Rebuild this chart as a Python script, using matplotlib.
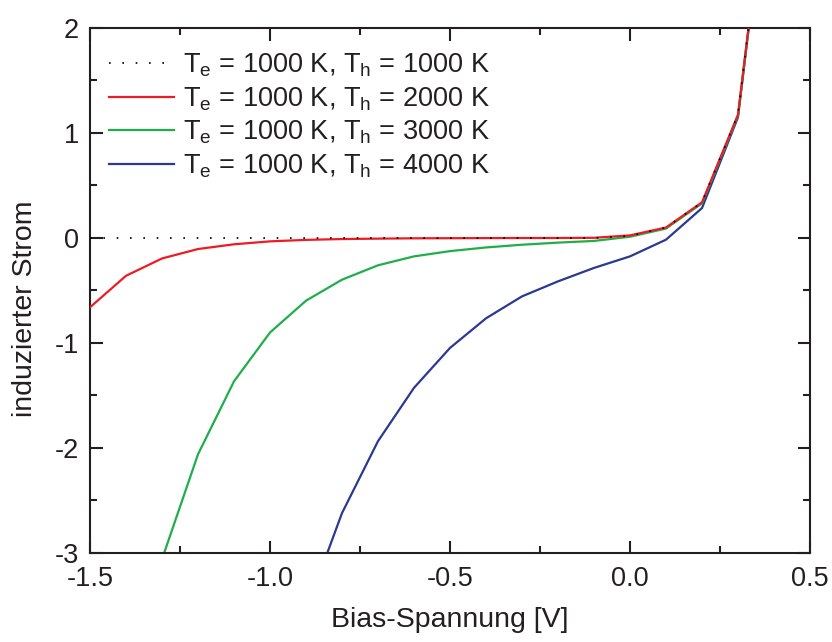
import matplotlib
matplotlib.use("Agg")
import matplotlib.pyplot as plt
from matplotlib.ticker import MultipleLocator

plt.rcParams['font.family'] = ['Liberation Sans', 'DejaVu Sans']
plt.rcParams['mathtext.fontset'] = 'custom'
plt.rcParams['mathtext.rm'] = 'Liberation Sans'
plt.rcParams['mathtext.default'] = 'regular'

# Bias voltage grid (V)
bias = [-1.5, -1.4, -1.3, -1.2, -1.1, -1.0, -0.9, -0.8, -0.7, -0.6, -0.5,
        -0.4, -0.3, -0.2, -0.1, 0.0, 0.1, 0.2, 0.3, 0.4]

# Induced current for T_e = 1000 K and different hole temperatures
i_1000 = [0.0, 0.0, 0.0, 0.0, 0.0, 0.0, 0.0, 0.0, 0.0, 0.0, 0.0,
          0.0, 0.0, 0.0, 0.0, 0.02, 0.10, 0.34, 1.175, 4.0]
i_2000 = [-0.66, -0.36, -0.195, -0.105, -0.06, -0.032, -0.018, -0.01, -0.006, -0.003, -0.002,
          -0.001, 0.0, 0.0, 0.002, 0.025, 0.10, 0.34, 1.175, 4.0]
i_3000 = [-6.9, -4.6, -3.06, -2.06, -1.365, -0.90, -0.597, -0.397, -0.26, -0.175, -0.125,
          -0.09, -0.064, -0.044, -0.028, 0.012, 0.09, 0.33, 1.165, 4.0]
i_4000 = [-9.5, -7.4, -5.9, -5.2, -4.8, -4.2, -3.55, -2.62, -1.935, -1.427, -1.047,
          -0.765, -0.556, -0.413, -0.285, -0.175, -0.016, 0.285, 1.15, 4.0]

labels = [r'T$_e$ = 1000 K, T$_h$ = 1000 K',
          r'T$_e$ = 1000 K, T$_h$ = 2000 K',
          r'T$_e$ = 1000 K, T$_h$ = 3000 K',
          r'T$_e$ = 1000 K, T$_h$ = 4000 K']

txt = '#231f20'
fig = plt.figure(figsize=(8.32, 6.42), dpi=100)
ax = fig.add_axes([90 / 832, 89 / 642, 720 / 832, 525 / 642])

ax.plot(bias, i_1000, color='black', lw=1.2, ls=(0, (1, 7)), label=labels[0], zorder=4)
ax.plot(bias, i_2000, color='#ec1c24', lw=1.6, label=labels[1], zorder=3)
ax.plot(bias, i_3000, color='#1fae4a', lw=1.6, label=labels[2], zorder=2)
ax.plot(bias, i_4000, color='#2b3990', lw=1.6, label=labels[3], zorder=1)

ax.set_xlim(-1.5, 0.5)
ax.set_ylim(-3, 2)
ax.xaxis.set_major_locator(MultipleLocator(0.5))
ax.xaxis.set_minor_locator(MultipleLocator(0.25))
ax.yaxis.set_major_locator(MultipleLocator(1))
ax.yaxis.set_minor_locator(MultipleLocator(0.5))
ax.xaxis.set_major_formatter(plt.FuncFormatter(lambda v, p: f'{v:.1f}'))
ax.yaxis.set_major_formatter(plt.FuncFormatter(lambda v, p: f'{v:.0f}'))

ax.tick_params(which='both', direction='in', top=True, right=True,
               colors=txt, labelsize=19.5, width=1.5)
ax.tick_params(which='major', length=9)
ax.tick_params(which='minor', length=5)
ax.tick_params(axis='x', which='major', pad=9)
ax.tick_params(axis='y', which='major', pad=8)
for s in ax.spines.values():
    s.set_linewidth(1.5)
    s.set_color(txt)

ax.set_xlabel('Bias-Spannung [V]', fontsize=20.5, color=txt, labelpad=11)
ax.set_ylabel('induzierter Strom', fontsize=20.5, color=txt)
ax.yaxis.set_label_coords(-0.072, 0.465)

leg = ax.legend(loc='upper left', frameon=False, fontsize=19.5, handlelength=2.4,
                handletextpad=0.3, labelspacing=0.22, borderaxespad=0.0,
                bbox_to_anchor=(0.012, 0.975))
for t in leg.get_texts():
    t.set_color(txt)

fig.savefig('out.png', dpi=100)
